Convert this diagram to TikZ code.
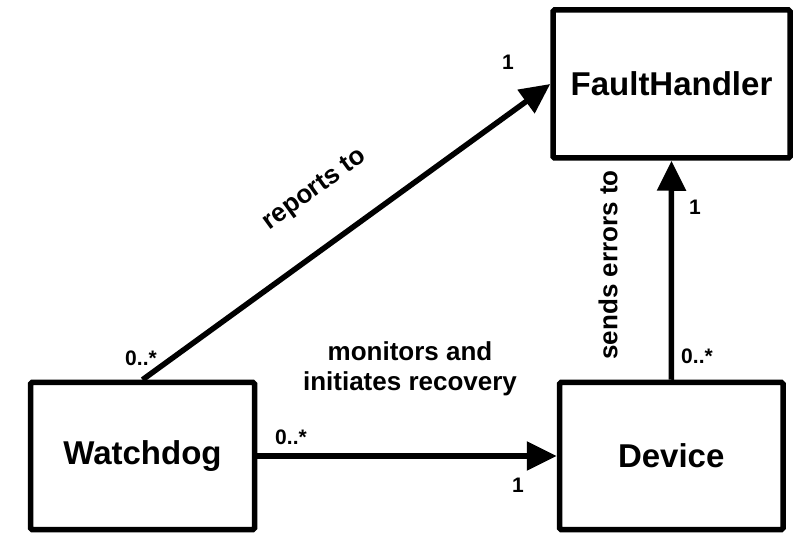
\documentclass[tikz,border=0pt]{standalone}
\usepackage{fontspec}
\setmainfont{Liberation Sans}
\usetikzlibrary{arrows.meta}
\begin{document}
\begin{tikzpicture}[x=1pt,y=-1pt,
  box/.style={draw, line width=5.5pt, rounded corners=1.5pt, inner sep=0pt,
    font=\fontsize{33}{38}\selectfont\bfseries},
  conn/.style={line width=5.5pt, -{Triangle[length=30pt,width=28pt]}},
  mult/.style={font=\fontsize{21}{24}\selectfont\bfseries, inner sep=0pt},
  lbl/.style={font=\fontsize{26}{30}\selectfont\bfseries, inner sep=0pt, align=center}]
\useasboundingbox (0,0) rectangle (809,553);
% classes
\node[box, minimum width=237pt, minimum height=148pt] (fh) at (671.5,84) {FaultHandler};
\node[box, minimum width=224pt, minimum height=147pt] (wd) at (142.5,456) {Watchdog};
\node[box, minimum width=223.5pt, minimum height=147pt] (dv) at (671.25,456) {Device};
% associations
\draw[conn] (wd.north) -- (fh.west);
\draw[conn] (wd.east) -- (dv.west);
\draw[conn] (dv.north) -- (fh.south);
% labels
\node[lbl, rotate=36] (l1) at (315,190) {reports to};
\node[lbl] (l2) at (410,369) {monitors and\\initiates recovery};
\node[lbl, rotate=90] (l3) at (608,265) {sends errors to};
% multiplicities
\node[mult] (m1) at (508,62) {1};
\node[mult] (m2) at (141,358) {0..*};
\node[mult] (m3) at (291,437) {0..*};
\node[mult] (m4) at (518,485) {1};
\node[mult] (m5) at (695,207) {1};
\node[mult] (m6) at (697,356) {0..*};
\end{tikzpicture}
\end{document}
